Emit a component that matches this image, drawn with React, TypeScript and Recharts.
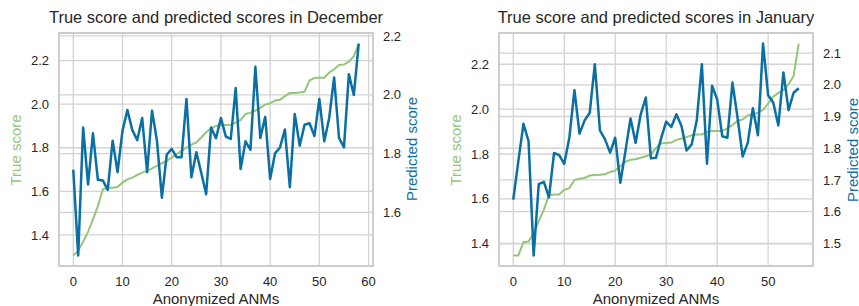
import React from "react";
import {
  ComposedChart,
  Line,
  XAxis,
  YAxis,
  CartesianGrid,
  ReferenceArea,
} from "recharts";

// December: 59 ANMs, sorted by true score
const decTrue = [
  1.306, 1.328, 1.368, 1.414, 1.471, 1.532, 1.609, 1.617, 1.617, 1.62,
  1.64, 1.655, 1.663, 1.675, 1.686, 1.694, 1.705, 1.717, 1.729, 1.74,
  1.755, 1.771, 1.786, 1.801, 1.814, 1.824, 1.847, 1.871, 1.889, 1.9,
  1.903, 1.904, 1.905, 1.915, 1.928, 1.955, 1.96, 1.971, 1.983, 1.998,
  2.004, 2.017, 2.02, 2.037, 2.051, 2.051, 2.054, 2.058, 2.109, 2.12,
  2.121, 2.121, 2.145, 2.16, 2.18, 2.182, 2.195, 2.22, 2.278,
];
const decPred = [
  1.745, 1.454, 1.889, 1.695, 1.869, 1.711, 1.709, 1.677, 1.844, 1.737,
  1.878, 1.948, 1.88, 1.846, 1.921, 1.737, 1.946, 1.844, 1.65, 1.797,
  1.816, 1.788, 1.788, 1.986, 1.72, 1.805, 1.735, 1.662, 1.889, 1.852,
  1.921, 1.858, 1.85, 2.023, 1.748, 1.842, 1.813, 2.095, 1.853, 1.925,
  1.714, 1.801, 1.821, 1.882, 1.686, 1.935, 1.827, 1.898, 1.903, 1.86,
  1.986, 1.842, 1.921, 2.059, 1.853, 1.821, 2.07, 1.999, 2.174,
];

// January: 57 ANMs
const janTrue = [
  1.348, 1.348, 1.407, 1.41, 1.447, 1.5, 1.552, 1.616, 1.619, 1.619,
  1.64, 1.648, 1.684, 1.69, 1.693, 1.704, 1.706, 1.707, 1.71, 1.72,
  1.726, 1.745, 1.765, 1.774, 1.777, 1.783, 1.79, 1.798, 1.827, 1.847,
  1.849, 1.851, 1.863, 1.869, 1.875, 1.884, 1.887, 1.887, 1.899, 1.902,
  1.902, 1.902, 1.914, 1.929, 1.947, 1.954, 1.972, 1.977, 1.984, 1.997,
  2.024, 2.055, 2.072, 2.084, 2.111, 2.148, 2.292,
];
const janPred = [
  1.638, 1.76, 1.877, 1.822, 1.462, 1.687, 1.694, 1.645, 1.785, 1.778,
  1.751, 1.833, 1.983, 1.846, 1.888, 1.912, 2.065, 1.856, 1.828, 1.786,
  1.833, 1.691, 1.79, 1.894, 1.817, 1.907, 1.96, 1.768, 1.77, 1.831,
  1.884, 1.867, 1.907, 1.87, 1.793, 1.812, 1.888, 2.065, 1.751, 1.997,
  1.954, 1.838, 1.833, 2.007, 1.896, 1.774, 1.817, 1.926, 1.841, 2.13,
  1.967, 1.944, 1.872, 2.039, 1.92, 1.975, 1.989,
];

const decXTicks = [0, 10, 20, 30, 40, 50, 60];
const decTrueTicks = [1.4, 1.6, 1.8, 2.0, 2.2];
const decPredTicks = [1.6, 1.8, 2.0, 2.2];

const janXTicks = [0, 10, 20, 30, 40, 50];
const janTrueTicks = [1.4, 1.6, 1.8, 2.0, 2.2];
const janPredTicks = [1.5, 1.6, 1.7, 1.8, 1.9, 2.0, 2.1];

const GREEN = "#95c57a";
const BLUE = "#0a6fa3";
const TEXT = "#262626";
const GRID = "#d3d3d3";
const FONT = "'Liberation Sans', Arial, sans-serif";

// matplotlib-style 5% margin around data
const pad = (vals: number[]): [number, number] => {
  const lo = Math.min(...vals);
  const hi = Math.max(...vals);
  const m = (hi - lo) * 0.05;
  return [lo - m, hi + m];
};

interface PanelProps {
  left: number;
  width: number;
  rightAxisWidth: number;
  trueScore: number[];
  predicted: number[];
  xTicks: number[];
  trueTicks: number[];
  predTicks: number[];
}

function Panel({
  left,
  width,
  rightAxisWidth,
  trueScore,
  predicted,
  xTicks,
  trueTicks,
  predTicks,
}: PanelProps) {
  const data = trueScore.map((t, i) => ({
    idx: i,
    trueScore: t,
    predicted: predicted[i],
  }));
  const xDomain = pad(data.map((d) => d.idx));
  const trueDomain = pad(trueScore);
  const predDomain = pad(predicted);
  const tick = { fill: TEXT, fontSize: 13, fontFamily: FONT };

  return (
    <div style={{ position: "absolute", left, top: 0 }}>
      <ComposedChart
        width={width}
        height={306}
        data={data}
        margin={{ top: 33, right: 0, bottom: 0, left: 0 }}
      >
        <XAxis
          dataKey="idx"
          type="number"
          domain={xDomain}
          allowDataOverflow
          ticks={xTicks}
          interval={0}
          height={40}
          axisLine={false}
          tickLine={false}
          tickMargin={5}
          tick={tick}
        />
        <YAxis
          yAxisId="true"
          domain={trueDomain}
          allowDataOverflow
          ticks={trueTicks}
          interval={0}
          width={59}
          axisLine={false}
          tickLine={false}
          tickMargin={4}
          tick={tick}
          tickFormatter={(v: number) => v.toFixed(1)}
        />
        <YAxis
          yAxisId="pred"
          orientation="right"
          domain={predDomain}
          allowDataOverflow
          ticks={predTicks}
          interval={0}
          width={rightAxisWidth}
          axisLine={false}
          tickLine={false}
          tickMargin={4}
          tick={tick}
          tickFormatter={(v: number) => v.toFixed(1)}
        />
        <CartesianGrid yAxisId="true" stroke={GRID} strokeWidth={1.3} />
        <CartesianGrid
          yAxisId="pred"
          vertical={false}
          stroke={GRID}
          strokeWidth={1.3}
        />
        <ReferenceArea
          yAxisId="true"
          x1={xDomain[0]}
          x2={xDomain[1]}
          y1={trueDomain[0]}
          y2={trueDomain[1]}
          fill="none"
          fillOpacity={0}
          stroke="#cccccc"
          strokeWidth={1.8}
          ifOverflow="visible"
        />
        <Line
          yAxisId="true"
          type="linear"
          dataKey="trueScore"
          stroke={GREEN}
          strokeWidth={2}
          dot={false}
          isAnimationActive={false}
        />
        <Line
          yAxisId="pred"
          type="linear"
          dataKey="predicted"
          stroke={BLUE}
          strokeWidth={2.5}
          strokeLinejoin="round"
          dot={false}
          isAnimationActive={false}
        />
      </ComposedChart>
    </div>
  );
}

export default function App() {
  return (
    <div
      style={{
        position: "absolute",
        left: 0,
        top: 0,
        width: 859,
        height: 306,
        background: "#ffffff",
        fontFamily: FONT,
      }}
    >
      <Panel
        left={0}
        width={430}
        rightAxisWidth={57}
        trueScore={decTrue}
        predicted={decPred}
        xTicks={decXTicks}
        trueTicks={decTrueTicks}
        predTicks={decPredTicks}
      />
      <Panel
        left={440}
        width={419}
        rightAxisWidth={46}
        trueScore={janTrue}
        predicted={janPred}
        xTicks={janXTicks}
        trueTicks={janTrueTicks}
        predTicks={janPredTicks}
      />
      {/* titles and axis labels */}
      <svg
        width={859}
        height={306}
        style={{ position: "absolute", left: 0, top: 0, pointerEvents: "none" }}
        fontFamily={FONT}
      >
        <text x={216} y={22.7} textAnchor="middle" fontSize={16.5} fill={TEXT}>
          True score and predicted scores in December
        </text>
        <text x={656} y={22.7} textAnchor="middle" fontSize={16.5} fill={TEXT}>
          True score and predicted scores in January
        </text>
        <text x={216} y={304} textAnchor="middle" fontSize={15} fill={TEXT}>
          Anonymized ANMs
        </text>
        <text x={656} y={304} textAnchor="middle" fontSize={15} fill={TEXT}>
          Anonymized ANMs
        </text>
        <text
          transform="translate(20.7,150) rotate(-90)"
          textAnchor="middle"
          fontSize={15}
          fill={GREEN}
        >
          True score
        </text>
        <text
          transform="translate(416.7,149) rotate(-90)"
          textAnchor="middle"
          fontSize={15}
          fill={BLUE}
        >
          Predicted score
        </text>
        <text
          transform="translate(460.7,150) rotate(-90)"
          textAnchor="middle"
          fontSize={15}
          fill={GREEN}
        >
          True score
        </text>
        <text
          transform="translate(857.5,150) rotate(-90)"
          textAnchor="middle"
          fontSize={15}
          fill={BLUE}
        >
          Predicted score
        </text>
      </svg>
    </div>
  );
}
